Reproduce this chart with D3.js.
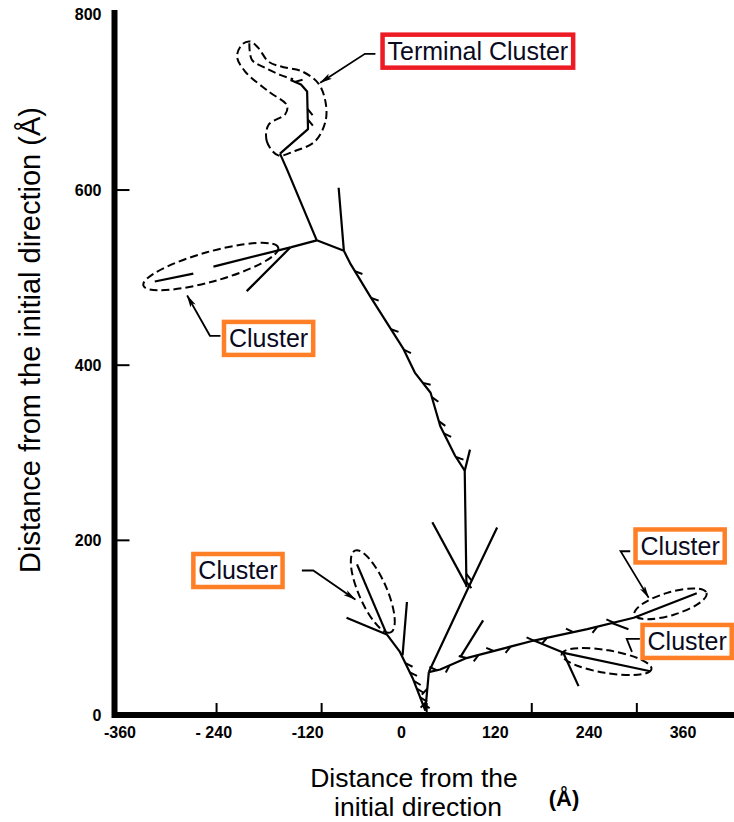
<!DOCTYPE html>
<html>
<head>
<meta charset="utf-8">
<script src="https://cdn.jsdelivr.net/npm/d3@7"></script>
<style>
body { margin: 0; background: #fff; }
svg { display: block; }
text { font-family: "Liberation Sans", Arial, sans-serif; }
</style>
</head>
<body>
<svg id="svg" width="734" height="822"></svg>
<script>
// ticks and labels (Å)
const xTicks = [-240, -120, 0, 120, 240];
const xLabelValues = [-360, -240, -120, 0, 120, 240, 360];
const xTickLabels = ['-360', '- 240', '-120', '0', '120', '240', '360'];
const yTicks = [200, 400, 600];
const yTickLabels = [0, 200, 400, 600, 800];

// track polylines, [x, y] in Å, listed from the start outward
const leftTrack = [[-1, 5], [-15, 41], [-30, 72], [-45, 92]];
const rightTrack = [[-1, 5], [3, 49]];
const rightBarbed = [[3, 49], [16, 52], [46, 65], [92, 77], [123, 85], [184, 98], [237, 111], [309, 139]];
const trunk = [[46, 146], [44, 279], [33, 296], [16, 330], [5, 368], [-13, 391], [-26, 418], [-45, 448], [-64, 478], [-87, 516], [-94, 530]];
const trunkUpper = [[-94, 530], [-125, 542], [-159, 623], [-167, 641]];
const terminalTrack = [[-167, 641], [-135, 669], [-136, 712], [-143, 720], [-155, 725]];
const sideTracks = [
  [[-45, 92], [-91, 111]],
  [[-45, 92], [-79, 172]],
  [[-22, 129], [-27, 68]],
  [[3, 49], [47, 143], [81, 214]],
  [[123, 85], [157, 71], [256, 50]],
  [[157, 70], [174, 33]],
  [[212, 105], [231, 98]],
  [[39, 66], [65, 108]],
  [[7, 220], [46, 148]],
  [[44, 279], [50, 303]],
  [[-94, 530], [-100, 602]],
  [[-125, 542], [-155, 534]],
  [[-155, 534], [-243, 512]],
  [[-266, 504], [-310, 495]],
  [[-155, 534], [-205, 484]]
];

// small side marks along the tracks
const trunkBarbs = [[45, 161], [45, 152], [33, 294], [25, 324], [16, 336], [10, 364], [1, 383], [-22, 419], [-41, 440], [-60, 478], [-81, 507]];
const rightBarbs = [[12, 51], [27, 56], [46, 65], [60, 68], [77, 73], [96, 79], [123, 85], [138, 88], [168, 94], [195, 103], [214, 106]];
const leftBarbs = [[-5, 12], [-7, 20], [-11, 30], [-14, 39], [-18, 49], [-22, 60]];
const startBarbs = [[0, 15], [1, 30]];
const terminalBarbs = [[-135, 680], [-136, 692], [-150, 723]];

// dashed cluster ellipses (centre, semi axes in Å, tilt in degrees)
const clusterCx = [-246, -61, 279, 206];
const clusterCy = [512, 141, 127, 61];
const clusterRx = [80, 51, 43, 52];
const clusterRy = [17, 16, 13, 13];
const clusterTilt = [-15.7, 66.4, -16.8, 9.5];

// terminal cluster outline
const terminalOutline = [[-169, 639], [-182, 655], [-180, 674], [-161, 686], [-159, 696], [-180, 712], [-207, 735], [-216, 752], [-210, 766], [-201, 769], [-192, 762], [-180, 746], [-164, 740], [-142, 735], [-123, 721], [-115, 700], [-115, 678], [-127, 655], [-150, 644]];
const terminalInner = [[-202, 767], [-199, 748], [-184, 739], [-167, 731], [-152, 726]];

// annotations
const labelText = ['Terminal Cluster', 'Cluster', 'Cluster', 'Cluster', 'Cluster'];
const labelKind = ['terminal', 'cluster', 'cluster', 'cluster', 'cluster'];
const labelX = [59, -180, -215, 290, 298];
const labelY = [758, 430, 165, 193, 84];
const leaders = [
  [[-58, 755], [-70, 755], [-121, 722]],
  [[-235, 433], [-247, 433], [-273, 479]],
  [[-142, 165], [-129, 165], [-81, 132]],
  [[233, 187], [222, 187], [254, 134]],
  [[244, 87], [229, 87], [235, 72]]
];
const leaderArrow = [true, true, true, true, false];

const kindColor = { terminal: '#ed1c24', cluster: '#ff7f27' };

const svg = d3.select('#svg');

const x = d3.scaleLinear().domain([-356, 352]).range([114.5, 734.4]);
const y = d3.scaleLinear().domain([0, 805]).range([715, 10]);
const xLab = d3.scaleLinear().domain([-360, 360]).range([120, 683]);

const line = d3.line().x(d => x(d[0])).y(d => y(d[1]));
const closed = d3.line().x(d => x(d[0])).y(d => y(d[1])).curve(d3.curveCatmullRomClosed);
const smooth = d3.line().x(d => x(d[0])).y(d => y(d[1])).curve(d3.curveCatmullRom);

svg.append('defs').append('marker')
  .attr('id', 'head')
  .attr('viewBox', '0 0 13 6')
  .attr('refX', 12)
  .attr('refY', 3)
  .attr('markerWidth', 13)
  .attr('markerHeight', 6)
  .attr('markerUnits', 'userSpaceOnUse')
  .attr('orient', 'auto')
  .append('path')
  .attr('d', 'M0,0L13,3L0,6L3,3Z')
  .attr('fill', '#000');

// ticks
const gx = svg.append('g')
  .attr('transform', 'translate(0,' + y(0) + ')')
  .call(d3.axisBottom(x).tickValues(xTicks).tickSize(-12).tickFormat(''));
gx.select('.domain').remove();
gx.selectAll('line').attr('stroke', '#000').attr('stroke-width', 2);

const gy = svg.append('g')
  .attr('transform', 'translate(' + x(-356) + ',0)')
  .call(d3.axisLeft(y).tickValues(yTicks).tickSize(-15).tickFormat(''));
gy.select('.domain').remove();
gy.selectAll('line').attr('stroke', '#000').attr('stroke-width', 2);

// thick axis lines
svg.append('path')
  .attr('d', 'M' + x(-356) + ',' + y(805) + 'V' + y(0) + 'H' + x(352))
  .attr('fill', 'none')
  .attr('stroke', '#000')
  .attr('stroke-width', 6);

// tick labels
svg.selectAll('.xlab')
  .data(xLabelValues)
  .join('text')
  .attr('class', 'xlab')
  .attr('x', d => xLab(d))
  .attr('y', y(0) + 23)
  .attr('text-anchor', 'middle')
  .style('font-size', '16px')
  .style('font-weight', 'bold')
  .text((d, i) => xTickLabels[i]);

svg.selectAll('.ylab')
  .data(yTickLabels)
  .join('text')
  .attr('class', 'ylab')
  .attr('x', x(-356) - 13)
  .attr('y', d => y(d) + 6)
  .attr('text-anchor', 'end')
  .style('font-size', '16px')
  .style('font-weight', 'bold')
  .text(d => d);

// axis titles
svg.append('text')
  .attr('transform', 'translate(40,340) rotate(-90)')
  .attr('text-anchor', 'middle')
  .style('font-size', '29px')
  .text('Distance from the initial direction (Å)');

svg.append('text')
  .attr('x', 414)
  .attr('y', 786.5)
  .attr('text-anchor', 'middle')
  .style('font-size', '26.5px')
  .text('Distance from the');

svg.append('text')
  .attr('x', 418)
  .attr('y', 816.2)
  .attr('text-anchor', 'middle')
  .style('font-size', '26.5px')
  .text('initial direction');

svg.append('text')
  .attr('x', 564)
  .attr('y', 806)
  .attr('text-anchor', 'middle')
  .style('font-size', '22px')
  .style('font-weight', 'bold')
  .text('(Å)');

// tracks
const tracks = [leftTrack, rightTrack, rightBarbed, trunk, trunkUpper, terminalTrack].concat(sideTracks);
svg.append('g')
  .selectAll('path')
  .data(tracks)
  .join('path')
  .attr('d', line)
  .attr('fill', 'none')
  .attr('stroke', '#000')
  .attr('stroke-width', 2.2)
  .attr('stroke-linejoin', 'round');

// barbs
function barb(track, p, side) {
  const pts = track.map(d => [x(d[0]), y(d[1])]);
  const P = [x(p[0]), y(p[1])];
  let best = null;
  for (let i = 0; i < pts.length - 1; i++) {
    const a = pts[i], b = pts[i + 1];
    const dx = b[0] - a[0], dy = b[1] - a[1];
    const len = Math.hypot(dx, dy);
    let t = ((P[0] - a[0]) * dx + (P[1] - a[1]) * dy) / (len * len);
    t = Math.max(0, Math.min(1, t));
    const q = [a[0] + t * dx, a[1] + t * dy];
    const dist = Math.hypot(P[0] - q[0], P[1] - q[1]);
    if (!best || dist < best.dist) best = { dist: dist, q: q, ux: dx / len, uy: dy / len };
  }
  const ang = side * 38 * Math.PI / 180;
  const vx = -best.ux, vy = -best.uy;
  const rx = vx * Math.cos(ang) - vy * Math.sin(ang);
  const ry = vx * Math.sin(ang) + vy * Math.cos(ang);
  const L = 8;
  return 'M' + best.q[0] + ',' + best.q[1] + 'l' + (rx * L) + ',' + (ry * L);
}

const barbGroups = [
  { track: trunk, pts: trunkBarbs, side: i => -1 },
  { track: rightBarbed, pts: rightBarbs, side: i => (i % 2 ? -1 : 1) },
  { track: leftTrack, pts: leftBarbs, side: i => -1 },
  { track: rightTrack, pts: startBarbs, side: i => 1 },
  { track: terminalTrack, pts: terminalBarbs, side: i => -1 }
];
const gb = svg.append('g');
barbGroups.forEach(g => {
  gb.selectAll(null)
    .data(g.pts)
    .join('path')
    .attr('d', (d, i) => barb(g.track, d, g.side(i)))
    .attr('fill', 'none')
    .attr('stroke', '#000')
    .attr('stroke-width', 2);
});

// dashed clusters
const dash = '8,4';
svg.append('g')
  .selectAll('ellipse')
  .data(clusterCx)
  .join('ellipse')
  .attr('cx', d => x(d))
  .attr('cy', (d, i) => y(clusterCy[i]))
  .attr('rx', (d, i) => x(clusterRx[i]) - x(0))
  .attr('ry', (d, i) => x(clusterRy[i]) - x(0))
  .attr('transform', (d, i) => 'rotate(' + clusterTilt[i] + ',' + x(d) + ',' + y(clusterCy[i]) + ')')
  .attr('fill', 'none')
  .attr('stroke', '#000')
  .attr('stroke-width', 2)
  .attr('stroke-dasharray', dash);

svg.append('path')
  .attr('d', closed(terminalOutline))
  .attr('fill', 'none')
  .attr('stroke', '#000')
  .attr('stroke-width', 2)
  .attr('stroke-dasharray', dash);

svg.append('path')
  .attr('d', smooth(terminalInner))
  .attr('fill', 'none')
  .attr('stroke', '#000')
  .attr('stroke-width', 2)
  .attr('stroke-dasharray', dash);

// leader lines
svg.append('g')
  .selectAll('path')
  .data(leaders)
  .join('path')
  .attr('d', line)
  .attr('fill', 'none')
  .attr('stroke', '#000')
  .attr('stroke-width', 1.8)
  .attr('marker-end', (d, i) => leaderArrow[i] ? 'url(#head)' : null);

// label boxes
const lab = svg.append('g')
  .selectAll('g')
  .data(labelText)
  .join('g')
  .attr('transform', (d, i) => 'translate(' + x(labelX[i]) + ',' + y(labelY[i]) + ')');

lab.append('rect')
  .attr('fill', '#fff')
  .attr('stroke', (d, i) => kindColor[labelKind[i]])
  .attr('stroke-width', 4.5);

lab.append('text')
  .attr('text-anchor', 'middle')
  .attr('dy', '0.35em')
  .style('font-size', '25px')
  .style('fill', '#0a0a1e')
  .text(d => d);

lab.each(function () {
  const g = d3.select(this);
  const w = g.select('text').node().getBBox().width;
  g.select('rect')
    .attr('x', -w / 2 - 5)
    .attr('y', -16.5)
    .attr('width', w + 10)
    .attr('height', 33);
});
</script>
</body>
</html>
